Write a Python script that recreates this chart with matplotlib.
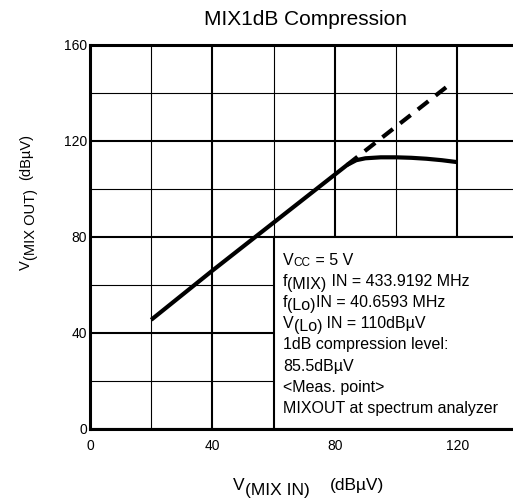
import matplotlib
matplotlib.use("Agg")
import matplotlib.pyplot as plt
from matplotlib.patches import Rectangle

plt.rcParams['font.family'] = ['Liberation Sans', 'DejaVu Sans']

W, H = 513, 500

# measured output curve (dBuV)
mix_in = [20, 40, 60, 80, 84, 87, 90, 95, 100, 105, 110, 115, 120]
mix_out = [45.5, 66, 86, 106, 110, 112, 112.8, 113.2, 113.2, 113, 112.6, 112, 111.2]

# ideal linear extrapolation
ideal_in = [84, 117]
ideal_out = [110, 143]

x_major = [0, 40, 80, 120]
x_minor = [20, 60, 100, 140]
y_major = [0, 40, 80, 120, 160]
y_minor = [20, 60, 100, 140]

# each line: list of (text, baseline shift in px, font size)
conditions = [
    [("V", 0, 11.5), ("CC", 1, 8.5), (" = 5 V", 0, 11.5)],
    [("f", 0, 11.5), ("(MIX)", 2.7, 11.5), (" IN = 433.9192 MHz", 0, 11.5)],
    [("f", 0, 11.5), ("(Lo)", 2.7, 11.5), ("IN = 40.6593 MHz", 0, 11.5)],
    [("V", 0, 11.5), ("(Lo)", 2.7, 11.5), (" IN = 110dBµV", 0, 11.5)],
    [("1dB compression level:", 0, 11.5)],
    [("85.5dBµV", 0, 11.5)],
    [("<Meas. point>", 0, 11.5)],
    [("MIXOUT at spectrum analyzer", 0, 11.5)],
]


fig = plt.figure(figsize=(W / 100, H / 100), dpi=100)
renderer = fig.canvas.get_renderer()


def rich(x, y, parts, rotation=0, zorder=5):
    """Draw text pieces one after another; x, y in px from top-left, on the baseline."""
    for text, shift, size in parts:
        if rotation == 0:
            t = fig.text(x / W, 1 - (y + shift) / H, text, fontsize=size,
                         ha='left', va='baseline', zorder=zorder)
            x += t.get_window_extent(renderer).width
        else:
            t = fig.text((x + shift) / W, 1 - y / H, text, fontsize=size,
                         rotation=90, rotation_mode='anchor',
                         ha='left', va='baseline', zorder=zorder)
            y -= t.get_window_extent(renderer).height


ax = fig.add_axes([90 / W, 71 / H, 428.4 / W, 384 / H])
ax.set_xlim(0, 140)
ax.set_ylim(0, 160)
ax.set_xticks(x_major)
ax.set_xticks(x_minor, minor=True)
ax.set_yticks(y_major)
ax.set_yticks(y_minor, minor=True)
ax.tick_params(which='both', length=0, labelsize=10)
ax.tick_params(axis='x', pad=7)
ax.tick_params(axis='y', pad=2)
ax.set_axisbelow(True)
ax.grid(which='major', color='black', linewidth=1.5)
ax.grid(which='minor', color='black', linewidth=0.8)
for s in ax.spines.values():
    s.set_linewidth(2.2)

# condition box hides the grid behind it
ax.add_patch(Rectangle((60, 0), 80, 80, facecolor='white', edgecolor='black',
                       linewidth=1.5, zorder=1))

ax.plot(mix_in, mix_out, color='black', linewidth=3, solid_capstyle='butt', zorder=3)
ax.plot(ideal_in, ideal_out, color='black', linewidth=3, dashes=(3.2, 2.2),
        dash_capstyle='butt', zorder=3)

for i, line in enumerate(conditions):
    rich(283, 265 + 21.1 * i, line)

fig.text(305 / W, 1 - 25 / H, "MIX1dB Compression", fontsize=15,
         ha='center', va='baseline')

# axis labels
rich(233, 490, [("V", 0, 12.5), ("(MIX IN)", 5, 12.5)])
rich(330, 490, [("(dBµV)", 0, 12.5)])
rich(30, 270, [("V", 0, 10.5), ("(MIX OUT)", 5, 10.5)], rotation=90)
rich(30, 180, [("(dBµV)", 0, 10.5)], rotation=90)

fig.savefig("out.png", dpi=100)
